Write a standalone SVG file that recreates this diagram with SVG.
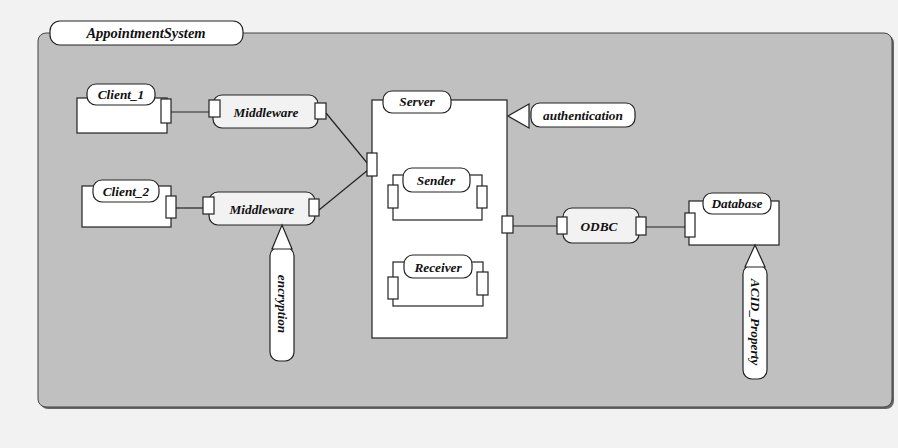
<svg xmlns="http://www.w3.org/2000/svg" width="898" height="448" viewBox="0 0 898 448">
<style>
.t{font-family:"Liberation Serif","Times New Roman",serif;font-weight:bold;font-style:italic;font-size:13.3px;fill:#111;text-anchor:middle}
.box{fill:#fff;stroke:#222;stroke-width:1.2}
.tab{fill:#fff;stroke:#222;stroke-width:1.2}
.soft{fill:#f2f2f2;stroke:#222;stroke-width:1.2}
.port{fill:#fff;stroke:#222;stroke-width:1.2}
.ln{stroke:#222;stroke-width:1.2;fill:none}
.tri{fill:#fff;stroke:#222;stroke-width:1.2}
</style>
<rect x="0" y="0" width="898" height="448" fill="#f2f2f2"/>
<g id="AppointmentSystem">
<rect x="40" y="35" width="854" height="374" rx="8" fill="#666"/>
<rect x="38" y="33" width="854" height="374" rx="8" fill="#c0c0c0" stroke="#444" stroke-width="1"/>
<rect x="50" y="21" width="193" height="24" rx="10" class="tab"/>
<text x="146" y="38" class="t" style="font-size:14.5px">AppointmentSystem</text>
</g>
<g id="connectors">
<line x1="171" y1="112" x2="209" y2="112" class="ln"/>
<line x1="176" y1="208" x2="203" y2="208" class="ln"/>
<line x1="326" y1="113" x2="368" y2="164" class="ln"/>
<line x1="319" y1="210" x2="368" y2="170" class="ln"/>
<line x1="487" y1="197" x2="503" y2="223" class="ln"/>
<line x1="490" y1="287" x2="503" y2="231" class="ln"/>
<line x1="513" y1="226" x2="557" y2="226" class="ln"/>
<line x1="646" y1="227" x2="685" y2="227" class="ln"/>
</g>
<g id="Client_1">
<rect x="77" y="98" width="90" height="35" class="box"/>
<rect x="87" y="84" width="68" height="21" rx="9" class="tab"/>
<text x="121" y="99" class="t">Client_1</text>
<rect x="161" y="99" width="10" height="24" class="port"/>
</g>
<g id="Client_2">
<rect x="82" y="186" width="89" height="41" class="box"/>
<rect x="93" y="180" width="66" height="22" rx="9" class="tab"/>
<text x="126" y="196" class="t">Client_2</text>
<rect x="166" y="196" width="10" height="22" class="port"/>
</g>
<g id="Middleware_1">
<rect x="213" y="95" width="105" height="33" rx="9" class="soft"/>
<rect x="209" y="100" width="11" height="17" class="port"/>
<rect x="315" y="103" width="11" height="16" class="port"/>
<text x="266" y="117" class="t">Middleware</text>
</g>
<g id="Middleware_2">
<rect x="209" y="192" width="106" height="33" rx="9" class="soft"/>
<rect x="203" y="197" width="11" height="17" class="port"/>
<rect x="309" y="199" width="10" height="17" class="port"/>
<text x="262" y="214" class="t">Middleware</text>
</g>
<g id="encryption">
<rect x="270" y="247" width="24" height="114" rx="9" class="tab"/>
<path d="M282,225 L292,249 L272,249 Z" class="tri"/>
<text transform="translate(278,304) rotate(90)" class="t">encryption</text>
</g>
<g id="Server">
<rect x="372" y="100" width="135" height="238" class="box"/>
<rect x="383" y="91" width="68" height="22" rx="9" class="tab"/>
<text x="417" y="106" class="t">Server</text>
<rect x="367" y="153" width="10" height="23" class="port"/>
<rect x="502" y="216" width="11" height="17" class="port"/>
</g>
<g id="Sender">
<rect x="393" y="175" width="89" height="45" class="box"/>
<rect x="403" y="168" width="67" height="24" rx="9" class="tab"/>
<text x="436" y="185" class="t">Sender</text>
<rect x="388" y="185" width="10" height="23" class="port"/>
<rect x="477" y="186" width="10" height="22" class="port"/>
</g>
<g id="Receiver">
<rect x="393" y="262" width="90" height="44" class="box"/>
<rect x="404" y="255" width="68" height="23" rx="9" class="tab"/>
<text x="438" y="272" class="t">Receiver</text>
<rect x="388" y="277" width="10" height="22" class="port"/>
<rect x="477" y="272" width="11" height="23" class="port"/>
</g>
<g id="authentication">
<path d="M508,116 L529,104 L529,128 Z" class="tri"/>
<rect x="531" y="103" width="104" height="24" rx="9" class="tab"/>
<text x="583" y="120" class="t">authentication</text>
</g>
<g id="ODBC">
<rect x="563" y="208" width="76" height="35" rx="9" class="soft"/>
<rect x="557" y="217" width="10" height="17" class="port"/>
<rect x="636" y="217" width="10" height="18" class="port"/>
<text x="599" y="231" class="t">ODBC</text>
</g>
<g id="Database">
<rect x="689" y="201" width="90" height="44" class="box"/>
<rect x="703" y="193" width="68" height="21" rx="9" class="tab"/>
<text x="737" y="208" class="t">Database</text>
<rect x="685" y="213" width="10" height="24" class="port"/>
</g>
<g id="ACID_Property">
<rect x="743" y="265" width="24" height="114" rx="9" class="tab"/>
<path d="M755,245 L765,267 L745,267 Z" class="tri"/>
<text transform="translate(751,322) rotate(90)" class="t">ACID_Property</text>
</g>
</svg>
